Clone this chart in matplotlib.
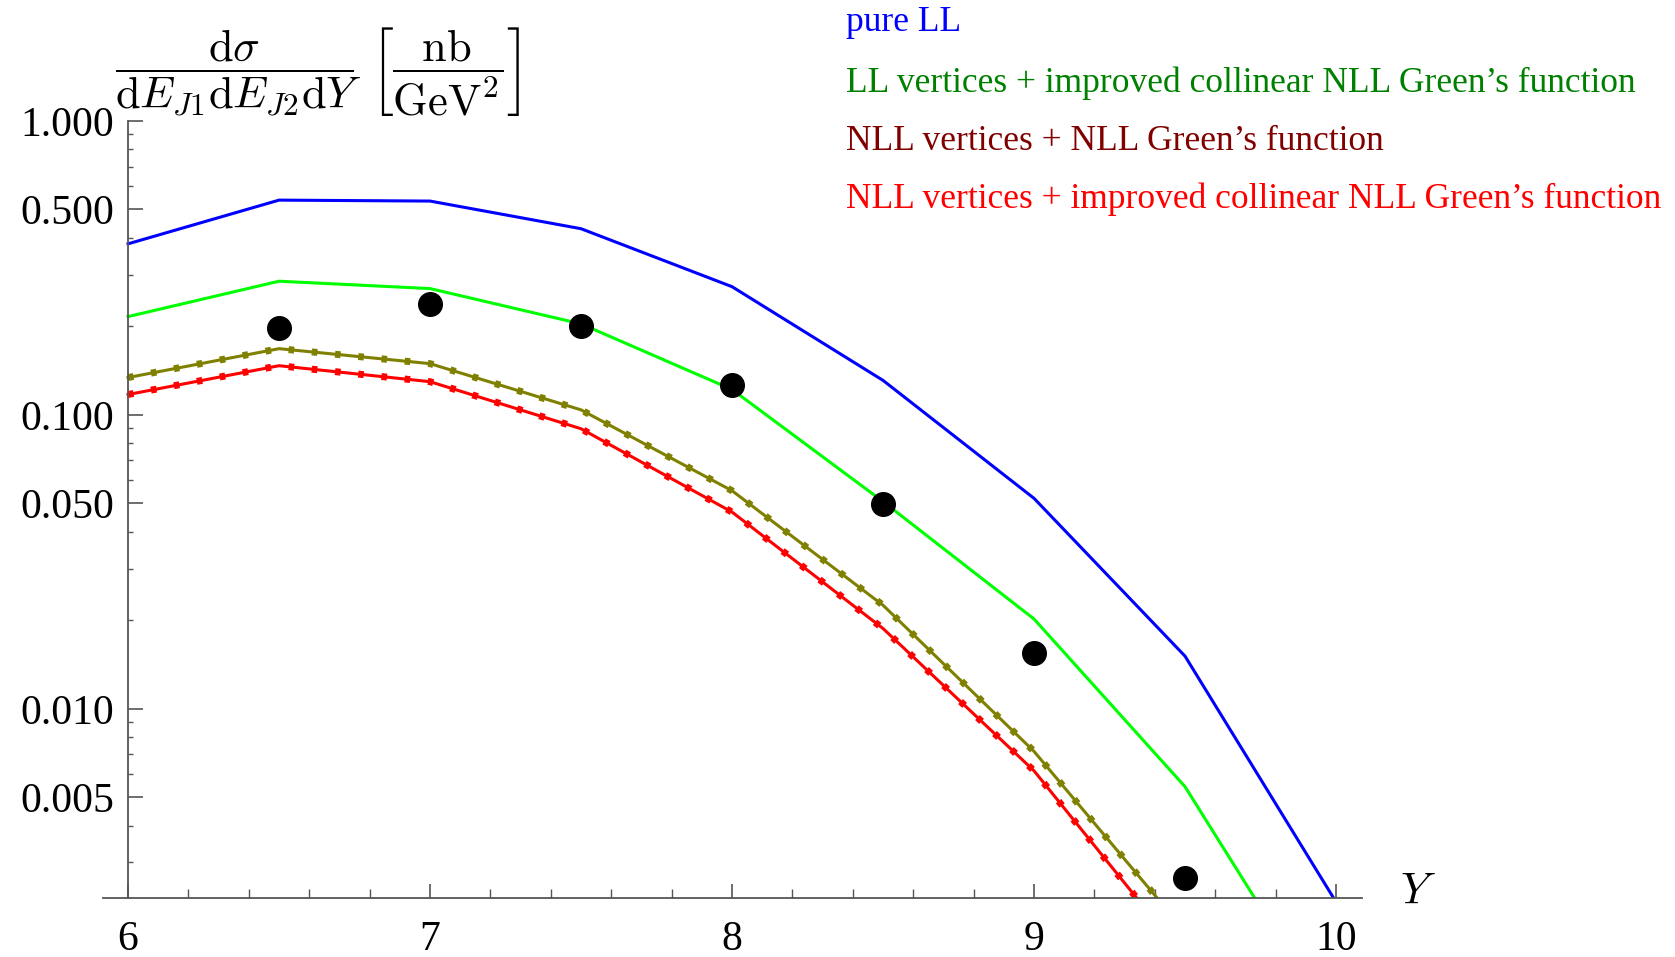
import numpy as np
import matplotlib; matplotlib.use("Agg")
import matplotlib.pyplot as plt
from matplotlib.ticker import FixedLocator, FixedFormatter, NullFormatter

plt.rcParams["font.family"] = ["Liberation Serif", "DejaVu Serif"]
plt.rcParams["mathtext.fontset"] = "cm"

# rapidity grid and curves
Y = [6.0, 6.5, 7.0, 7.5, 8.0, 8.5, 9.0, 9.5, 10.0]
pure_ll = [0.382, 0.538, 0.534, 0.430, 0.273, 0.131, 0.052, 0.0151, 0.0022]
ll_vert_coll = [0.216, 0.285, 0.269, 0.204, 0.122, 0.0507, 0.0202, 0.00543, 0.00082]
Y_nll = [6.0, 6.5, 7.0, 7.5, 8.0, 8.5, 9.0, 9.5]
nll_nll = [0.134, 0.168, 0.1494, 0.104, 0.0552, 0.0225, 0.00716, 0.00175]
nll_coll = [0.1173, 0.147, 0.1297, 0.0897, 0.0467, 0.01875, 0.00615, 0.00142]
Y_data = [6.5, 7.0, 7.5, 8.0, 8.5, 9.0, 9.5]
data = [0.197, 0.239, 0.200, 0.1264, 0.0499, 0.01545, 0.00266]

labels = ["pure LL", "LL vertices + improved collinear NLL Green\u2019s function",
          "NLL vertices + NLL Green\u2019s function",
          "NLL vertices + improved collinear NLL Green\u2019s function"]
label_cols = ["#0000ff", "#008000", "#800000", "#ff0000"]

W, H = 1675, 957
fig = plt.figure(figsize=(W/100, H/100), dpi=100)
ax = fig.add_axes([103/W, 1-898/H, (1362-103)/W, (898-121)/H])
ax.set_yscale("log")
ax.set_xlim(5.917, 10.086); ax.set_ylim(0.00227, 1.0)

ax.plot(Y, pure_ll, color="#0000ff", lw=2.2)
ax.plot(Y, ll_vert_coll, color="#00ff00", lw=2.2)
for yy, c in [(nll_nll, "#808000"), (nll_coll, "#ff0000")]:
    ax.plot(Y_nll, yy, color=c, lw=2.2)
    ax.plot(Y_nll, yy, color=c, lw=5, dashes=(0.8, 2.56))
ax.plot(Y_data, data, "o", color="black", ms=17, zorder=5)

axc = "#555555"
for s in ["top", "right"]: ax.spines[s].set_visible(False)
ax.spines["left"].set_position(("data", 6))
ax.spines["left"].set_bounds(0.00227, 1.0)
for s in ["left", "bottom"]:
    ax.spines[s].set_color(axc); ax.spines[s].set_linewidth(1.3)

ymaj = [0.005, 0.01, 0.05, 0.1, 0.5, 1.0]
ymin = [0.003, 0.004, 0.006, 0.007, 0.008, 0.009, 0.02, 0.03, 0.04, 0.06, 0.07, 0.08, 0.09,
        0.2, 0.3, 0.4, 0.6, 0.7, 0.8, 0.9]
ax.yaxis.set_major_locator(FixedLocator(ymaj))
ax.yaxis.set_major_formatter(FixedFormatter(["%.3f" % v for v in ymaj]))
ax.yaxis.set_minor_locator(FixedLocator(ymin))
ax.yaxis.set_minor_formatter(NullFormatter())
ax.set_xticks([6, 7, 8, 9, 10])
ax.set_xticks(np.arange(6, 10.01, 0.2), minor=True)
ax.tick_params(axis="y", which="major", direction="in", length=11, width=1.2, color=axc, labelsize=30, pad=10)
ax.tick_params(axis="y", which="minor", direction="in", length=3.8, width=1.0, color=axc)
ax.tick_params(axis="x", which="major", direction="in", length=10, width=1.2, color=axc, labelsize=30, pad=16)
ax.tick_params(axis="x", which="minor", direction="in", length=6.5, width=1.0, color=axc)

fig.text(318/W, 1-72/H,
         r"$\dfrac{\mathrm{d}\sigma}{\mathrm{d}E_{J1}\mathrm{d}E_{J2}\mathrm{d}Y}\ \left[\dfrac{\mathrm{nb}}{\mathrm{GeV}^2}\right]$",
         fontsize=32, ha="center", va="center")
fig.text(1418/W, 1-893/H, r"$Y$", fontsize=32, ha="center", va="center")

for lab, c, yb in zip(labels, label_cols, [31, 92, 150, 208]):
    fig.text(846/W, 1-yb/H, lab, color=c, fontsize=25.5, ha="left", va="baseline")

fig.savefig("out.png", dpi=100)
